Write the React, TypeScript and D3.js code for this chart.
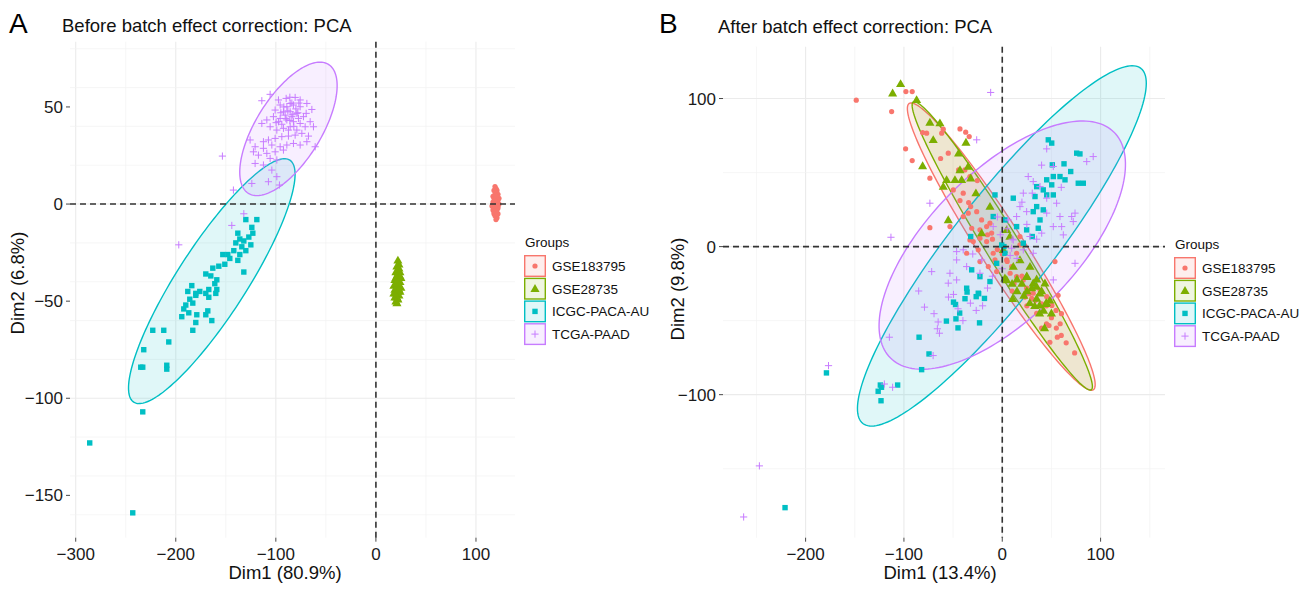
import React, { useEffect, useRef } from "react";
import * as d3 from "d3";

const groups = ["GSE183795", "GSE28735", "ICGC-PACA-AU", "TCGA-PAAD"];
const groupColors = ["#F8766D", "#7CAE00", "#00BFC4", "#C77CFF"];
const groupShapes = ["circle", "triangle", "square", "plus"];

// tick labels
const xTicksBefore = [-300, -200, -100, 0, 100];
const yTicksBefore = [-150, -100, -50, 0, 50];
const xTicksAfter = [-200, -100, 0, 100];
const yTicksAfter = [-100, 0, 100];

// Panel A - before correction, [Dim1, Dim2]
const beforeGSE183795 = [
  [119, 9], [120, 8], [121, 7], [118, 7], [120, 6], [122, 5], [119, 5], [117, 4], [121, 4], [123, 3],
  [118, 3], [120, 2], [122, 2], [117, 1], [119, 1], [121, 0], [123, 0], [118, 0], [120, -1], [116, -1],
  [122, -2], [119, -2], [117, -3], [121, -3], [120, -4], [118, -5], [122, -5], [119, -6], [121, -7], [120, -8],
  [118, -2], [121, 1], [119, 3], [120, -3], [122, -1], [118, -4], [120, 4], [119, -1], [121, -5], [120, 0],
];

const beforeGSE28735 = [
  [22, -29], [23, -31], [21, -32], [23, -33], [22, -34], [20, -35], [24, -35], [22, -36], [21, -37], [23, -38],
  [25, -38], [19, -39], [22, -39], [24, -40], [20, -41], [22, -41], [18, -42], [23, -42], [25, -43], [21, -43],
  [19, -44], [22, -45], [24, -45], [20, -46], [23, -47], [21, -48], [19, -48], [22, -49], [20, -50], [21, -51],
  [18, -46], [24, -37], [20, -38], [23, -44], [21, -40],
];

const beforeICGC = [
  [-286, -123], [-243, -159], [-233, -107], [-235, -84], [-233, -84], [-232, -75], [-223, -65], [-212, -65],
  [-207, -71], [-209, -83], [-209, -85], [-194, -58], [-192, -54], [-190, -52], [-186, -49], [-187, -56],
  [-183, -51], [-183, -65], [-180, -61], [-179, -57], [-180, -47], [-170, -57], [-168, -55], [-170, -46],
  [-167, -48], [-164, -60], [-160, -46], [-159, -44], [-119, -8], [-130, -8], [-124, -12], [-138, -15],
  [-136, -18], [-132, -19], [-127, -17], [-134, -22], [-140, -20], [-142, -24], [-148, -26], [-153, -26],
  [-146, -28], [-151, -31], [-157, -32], [-163, -33], [-165, -37], [-170, -36], [-159, -39], [-161, -41],
  [-167, -44], [-176, -45], [-180, -46], [-184, -42], [-188, -45], [-132, -35], [-138, -29], [-123, -15],
  [-125, -21], [-130, -24], [-136, -26],
];

const beforeTCGA = [
  [-114, 53.2], [-105.7, 56.5], [-97.4, 53.6], [-89.7, 54.4], [-80.7, 54.9], [-75.7, 53.6], [-69, 51.8],
  [-64, 48.7], [-69.7, 46.7], [-75.7, 50.1], [-82.4, 51], [-89, 50.1], [-95.7, 51], [-100.7, 48.4],
  [-92.4, 47.5], [-85.7, 47.5], [-79, 46.7], [-72.4, 45], [-65.7, 42.4], [-70.7, 39.8], [-75.7, 41.5],
  [-82.4, 42.4], [-89, 43.3], [-95.7, 44.1], [-102.4, 45], [-109, 43.3], [-114, 41.5], [-105.7, 39.8],
  [-99, 38.1], [-92.4, 39], [-85.7, 39.8], [-79, 38.1], [-74, 36.4], [-80.7, 35.5], [-87.4, 35],
  [-94, 34.7], [-100.7, 33.8], [-107.4, 33], [-112.4, 32.1], [-104, 30.4], [-95.7, 29.5], [-89, 30.4],
  [-82.4, 31.2], [-75.7, 30.4], [-69, 32.1], [-60.7, 29.5], [-125.7, 33], [-120.7, 29.5], [-112.4, 28.7],
  [-122.4, 26.9], [-117.4, 25.2], [-109, 26.1], [-100.7, 26.9], [-92.4, 27.8], [-120.7, 20.9],
  [-112.4, 20.1], [-105.7, 23.5], [-99, 22.7], [-104, 17.5], [-99, 14.1], [-107.4, 11.5], [-96.4, 9.8],
  [-124, 10.6], [-142.4, 7.2], [-153.4, 24.7], [-62.4, 39.8], [-67.4, 35], [-85.7, 51.8], [-90.7, 45.8],
  [-97.4, 42.4], [-84, 45], [-77.4, 44.1], [-87.4, 38.1], [-94, 41.1], [-99.7, 41.9], [-88, 48],
  [-83, 46], [-86, 43], [-80, 49], [-92, 50], [-84, 52], [-78, 47], [-90, 44], [-86, 55], [-82, 40],
  [-95, 47], [-77, 52], [-132, -5], [-144, -11], [-197, -21],
];

// Panel B - after correction, [Dim1, Dim2]
const afterGSE183795 = [
  [-148.5, 98.9], [-112.5, 91.2], [-98, 104.7], [-91.6, 104.7], [-98.3, 66], [-91.6, 58.1], [-81, 77],
  [-76.9, 76.6], [-73.6, 46.2], [-61.6, 76.6], [-60, 79.3], [-54.9, 63.1], [-62.7, 59.5], [-43, 79.5],
  [-37.2, 77.3], [-33.6, 74.3], [-44.4, 51.8], [-38, 51.8], [-32.9, 47.3], [-25.4, 44.6], [-49.8, 38.3],
  [-39.7, 36.1], [-43, 31.1], [-34.2, 29.7], [-32.1, 27], [-34.6, 22.6], [-39.7, 20.3], [-26, 23.6],
  [-73.6, 12.8], [-53.2, 13.5], [-31.1, 12.4], [-22.7, 11.3], [-15.9, 13.5], [-10.8, 9.1], [-22.7, 5.7],
  [-15.9, 3.4], [-29.5, 3.4], [-24.4, -2.2], [-9.2, -4.5], [-7.4, -9], [-14.2, -13.5], [-5.7, -16.9],
  [4.5, -9], [9.6, -13.5], [14.6, -20.3], [21.4, -22.5], [24.8, -28.1], [31.5, -31.5], [38.4, -29.3],
  [45.2, -33.8], [53.6, -10.1], [14.6, -4.5], [18, 1.1], [18, 6.8], [-12.5, 15.8], [-21, 18], [-32.9, 4.5],
  [-36.2, -4.5], [-22.7, -10.1], [45, -52.1], [47.5, -53.3], [56, -61.2], [48.4, -64.6], [73.6, -71.8],
  [58.9, -52.1], [60.2, -45.3], [54.7, -43.1], [50.5, -39.7], [40, -38.6], [33.7, -36.3], [23.1, -34.1],
  [27.3, -31.8], [56.8, -32.9], [20, -20], [30, -35], [35, -45], [45, -40], [50, -48], [55, -55], [40, -55],
  [25, -40], [12, -25], [8, -18], [5, -10], [0, -5], [-5, -2], [-10, 5], [-15, 8], [10, -30], [60, -60],
  [65, -65],
];

const afterGSE28735 = [
  [-103.4, 109.9], [-111.5, 103.6], [-87.1, 99.1], [-73.6, 83.8], [-63.4, 83.4], [-70.2, 72.1], [-81, 54.5],
  [-36.9, 70.3], [-44.4, 63.1], [-43, 51.8], [-41.3, 45.1], [-34.6, 54.1], [-26.8, 36.1], [-60, 40.5],
  [-54.9, 18], [-12.5, 27], [4.5, 11.3], [1, -2.2], [2.7, -21.4], [7.8, 6.8], [11.2, -13.5], [18, -9],
  [24.8, -20.3], [31.5, -24.7], [35, -27], [38.4, -31.5], [43.4, -24.7], [28.2, -13.5], [4.5, -22.5],
  [-48.1, 45.1], [-56.6, 45.1], [-32.1, 46.2], [-21, 9.1], [20, -25], [25, -30], [30, -28], [35, -35],
  [28, -38], [40, -30], [15, -22], [22, -33], [33, -40], [45, -38], [38, -45], [50, -45], [43, -55],
  [15, -30], [10, -25], [25, -20], [35, -22], [10.5, -35.2], [37.9, -39.7], [44.2, -38.6], [48.4, -36.3],
  [42, -43.1],
];

const afterICGC = [
  [46.8, 72.1], [50.3, 69.9], [75.7, 63.1], [79, 62.6], [50.9, 55.2], [62.8, 55.9], [69.6, 50.7], [58.7, 47.3],
  [63.8, 45.1], [77.3, 42.8], [82.4, 42.8], [51.9, 47.3], [45.2, 45.1], [41.7, 38.3], [50.3, 41.7], [35, 40.5],
  [45.2, 34.9], [51.9, 34.9], [33.3, 33.8], [11.2, 32.7], [-7.4, 34.9], [-9.2, 20.3], [2.7, 18], [14.6, 13.5],
  [24.8, 11.3], [38.4, 18], [35, 27], [31.5, 23.6], [41.7, 24.8], [36.6, 12.4], [-32.1, 6.8], [-0.6, 1.1],
  [1.7, 0], [2.7, -4.5], [-5.7, -11.3], [-31.1, -15.7], [-22.7, -20.3], [-12.5, -23.6], [21.4, 2.3],
  [30.5, 6.8], [-36.2, -28.1], [-24.4, -31.5], [-49.6, -37.5], [-47.5, -39.1], [-37.9, -35.2], [-43.3, -44.9],
  [-47.1, -48.8], [-45, -54.9], [-56.8, -50.3], [-84.6, -61.2], [-74.5, -72.5], [-82, -83.1], [-23.1, -51.5],
  [-26.5, -33.8], [-18.1, -35], [-24, -31.8], [-35.8, -30.7], [-124, -93.5], [-122.8, -95], [-126.2, -97.7],
  [-106.4, -93.5], [-123.3, -104.1], [-178.8, -85.3], [-220.9, -176.3],
];

const afterTCGA = [
  [-113.2, 6.3], [-11.8, 104.1], [-26, 72.1], [-73.6, 29.3], [45.2, 66], [51.9, 54.1], [92.5, 60.8],
  [85.9, 57.4], [26.4, 47.3], [31.5, 43.9], [38.4, 40.5], [21.4, 36.1], [30.5, 36.1], [45.2, 32.7],
  [55.3, 29.3], [18, 27], [24.8, 23.6], [45.2, 22.6], [58.7, 20.3], [70.6, 20.3], [74, 22.6], [72.2, 16.9],
  [60.4, 13.5], [51.9, 13.5], [40.1, 9.1], [62.1, 7.9], [28.2, 6.8], [14.6, 20.3], [6.1, 18], [11.2, 4.5],
  [21.4, -2.2], [31.5, -4.5], [-46.4, -3.4], [-39.7, -2.2], [-46.4, -9], [-36.2, -13.5], [-71.8, -16.9],
  [-53.2, -18], [-54.9, -24.7], [-46.4, -22.5], [-22.7, -18], [-21, -9], [-9.2, 13.5], [9.6, -1.1],
  [74, -11.3], [51.9, -22.5], [-49.6, -32.3], [-79.1, -40.9], [-69.4, -45.3], [-65.2, -50.9], [-66, -55.5],
  [-63.9, -58.5], [-70.3, -73.6], [-114.8, -61.2], [-119.9, -92.8], [-111.5, -95], [-176.7, -80.4],
  [-247, -148.1], [-263, -182.6], [-32.4, -38.2], [-26.5, -43.1], [-45, -42], [-54.7, -34.1], [10, 5],
  [15, -8], [5, 12], [-5, 20], [25, 15], [35, 5], [20, 30], [0, -15], [-10, -20], [-30, -5], [-85, -30],
  [-20, -40], [-40, -50], [60, 40], [40, 55], [-2, 8], [8, -6], [-15, -28],
];

// concentration ellipses: centre, major semi-axis (data units), minor/major ratio
const beforeEllipses = [
  { group: 2, cx: -164, cy: -39.7, ux: 78, uy: 62.3, ratio: 0.24 },
  { group: 3, cx: -87.4, cy: 38.7, ux: 40, uy: 33.2, ratio: 0.43 },
];
const afterEllipses = [
  { group: 0, cx: -1, cy: 0, ux: 93.6, uy: -96.7, ratio: 0.13 },
  { group: 1, cx: 0, cy: 0.5, ux: 90.5, uy: -97.2, ratio: 0.1 },
  { group: 2, cx: -0.4, cy: 0.45, ux: 141.4, uy: 119.9, ratio: 0.22 },
  { group: 3, cx: 0, cy: 1, ux: 113.6, uy: 76.3, ratio: 0.46 },
];

const FONT = "'Liberation Sans', Arial, Helvetica, sans-serif";
const fmt = (d) => (d < 0 ? "\u2212" + Math.abs(d) : String(d));

const drawSymbol = (g, shape, color, px, py) => {
  if (shape === "circle") {
    g.append("circle").attr("cx", px).attr("cy", py).attr("r", 2.6).attr("fill", color);
  } else if (shape === "triangle") {
    g.append("path")
      .attr("d", d3.symbol(d3.symbolTriangle, 36)())
      .attr("transform", `translate(${px},${py + 0.6})`)
      .attr("fill", color);
  } else if (shape === "square") {
    g.append("rect").attr("x", px - 2.7).attr("y", py - 2.7).attr("width", 5.4).attr("height", 5.4).attr("fill", color);
  } else {
    g.append("path")
      .attr("d", `M${px - 3.6},${py}H${px + 3.6}M${px},${py - 3.6}V${py + 3.6}`)
      .attr("stroke", color)
      .attr("stroke-width", 1)
      .attr("fill", "none");
  }
};

const drawPanel = (svg, p) => {
  const x = d3.scaleLinear().domain(p.xDomain).range(p.xRange);
  const y = d3.scaleLinear().domain(p.yDomain).range(p.yRange);
  const g = svg.append("g");
  const [left, right] = p.xRange;
  const [bottom, top] = p.yRange;

  // grid
  const xGrid = x.ticks(10);
  const yGrid = y.ticks(10);
  g.selectAll(".vg")
    .data(xGrid)
    .join("line")
    .attr("x1", (d) => x(d)).attr("x2", (d) => x(d))
    .attr("y1", top).attr("y2", bottom)
    .attr("stroke", (d) => (p.xTicks.includes(d) ? "#EBEBEB" : "#F2F2F2"))
    .attr("stroke-width", (d) => (p.xTicks.includes(d) ? 1.1 : 0.7));
  g.selectAll(".hg")
    .data(yGrid)
    .join("line")
    .attr("y1", (d) => y(d)).attr("y2", (d) => y(d))
    .attr("x1", left).attr("x2", right)
    .attr("stroke", (d) => (p.yTicks.includes(d) ? "#EBEBEB" : "#F2F2F2"))
    .attr("stroke-width", (d) => (p.yTicks.includes(d) ? 1.1 : 0.7));

  // ellipses
  const outline = d3.line().curve(d3.curveLinearClosed);
  p.ellipses.forEach((e) => {
    const cx = x(e.cx), cy = y(e.cy);
    const tx = x(e.cx + e.ux) - cx, ty = y(e.cy + e.uy) - cy;
    const a = Math.hypot(tx, ty);
    const b = a * e.ratio;
    const ca = tx / a, sa = ty / a;
    const pts = d3.range(0, 360, 2).map((deg) => {
      const t = (deg * Math.PI) / 180;
      const u = a * Math.cos(t), v = b * Math.sin(t);
      return [cx + u * ca - v * sa, cy + u * sa + v * ca];
    });
    g.append("path")
      .attr("d", outline(pts))
      .attr("fill", groupColors[e.group])
      .attr("fill-opacity", 0.12)
      .attr("stroke", groupColors[e.group])
      .attr("stroke-width", 1.4);
  });

  // points
  p.series.forEach((s, i) => {
    const sg = g.append("g");
    s.forEach((d) => drawSymbol(sg, groupShapes[i], groupColors[i], x(d[0]), y(d[1])));
  });

  // reference lines
  g.append("line")
    .attr("x1", x(0)).attr("x2", x(0)).attr("y1", top).attr("y2", bottom)
    .attr("stroke", "#333").attr("stroke-width", 1.6).attr("stroke-dasharray", "6,4");
  g.append("line")
    .attr("y1", y(0)).attr("y2", y(0)).attr("x1", left).attr("x2", right)
    .attr("stroke", "#333").attr("stroke-width", 1.6).attr("stroke-dasharray", "6,4");

  // axes
  p.xTicks.forEach((t) => {
    g.append("line").attr("x1", x(t)).attr("x2", x(t)).attr("y1", bottom).attr("y2", bottom + 4)
      .attr("stroke", "#333").attr("stroke-width", 0.9);
    g.append("text").attr("x", x(t)).attr("y", bottom + 22).attr("text-anchor", "middle")
      .attr("font-family", FONT).attr("font-size", 17).attr("fill", "#1a1a1a").text(fmt(t));
  });
  p.yTicks.forEach((t) => {
    g.append("line").attr("x1", left - 4).attr("x2", left).attr("y1", y(t)).attr("y2", y(t))
      .attr("stroke", "#333").attr("stroke-width", 0.9);
    g.append("text").attr("x", left - 7).attr("y", y(t)).attr("dy", "0.36em").attr("text-anchor", "end")
      .attr("font-family", FONT).attr("font-size", 17).attr("fill", "#1a1a1a").text(fmt(t));
  });

  g.append("text").attr("x", p.xTitlePos[0]).attr("y", p.xTitlePos[1]).attr("text-anchor", "middle")
    .attr("font-family", FONT).attr("font-size", 18.5).attr("fill", "#111").text(p.xTitle);
  g.append("text")
    .attr("transform", `translate(${p.yTitlePos[0]},${p.yTitlePos[1]}) rotate(-90)`)
    .attr("text-anchor", "middle")
    .attr("font-family", FONT).attr("font-size", 18.5).attr("fill", "#111").text(p.yTitle);

  // panel letter and title
  g.append("text").attr("x", p.letterPos[0]).attr("y", p.letterPos[1])
    .attr("font-family", FONT).attr("font-size", 28).attr("fill", "#000").text(p.letter);
  g.append("text").attr("x", p.titlePos[0]).attr("y", p.titlePos[1])
    .attr("font-family", FONT).attr("font-size", 18.5).attr("fill", "#111").text(p.title);

  // legend
  const [lx, ly] = p.legendPos;
  g.append("text").attr("x", lx + 1).attr("y", ly - 8)
    .attr("font-family", FONT).attr("font-size", 13.5).attr("fill", "#111").text("Groups");
  groups.forEach((name, i) => {
    const top0 = ly + i * 22.7;
    g.append("rect").attr("x", lx + 0.7).attr("y", top0 + 0.7).attr("width", 20.6).attr("height", 20.6)
      .attr("fill", groupColors[i]).attr("fill-opacity", 0.12)
      .attr("stroke", groupColors[i]).attr("stroke-width", 1.4);
    drawSymbol(g, groupShapes[i], groupColors[i], lx + 11, top0 + 11);
    g.append("text").attr("x", lx + 28).attr("y", top0 + 11).attr("dy", "0.36em")
      .attr("font-family", FONT).attr("font-size", 13.5).attr("fill", "#111").text(name);
  });
};

const App = () => {
  const svgRef = useRef(null);

  useEffect(() => {
    const svg = d3.select(svgRef.current);
    svg.selectAll("*").remove();

    drawPanel(svg, {
      series: [beforeGSE183795, beforeGSE28735, beforeICGC, beforeTCGA],
      ellipses: beforeEllipses,
      xDomain: [-305.7, 139], xRange: [70, 515],
      yDomain: [-171.8, 83.6], yRange: [537.7, 41.7],
      xTicks: xTicksBefore, yTicks: yTicksBefore,
      xTitle: "Dim1 (80.9%)", yTitle: "Dim2 (6.8%)",
      xTitlePos: [285, 579], yTitlePos: [24, 283],
      letter: "A", letterPos: [9, 33],
      title: "Before batch effect correction: PCA", titlePos: [62, 32],
      legendPos: [524, 255],
    });

    drawPanel(svg, {
      series: [afterGSE183795, afterGSE28735, afterICGC, afterTCGA],
      ellipses: afterEllipses,
      xDomain: [-284, 165.5], xRange: [723, 1165],
      yDomain: [-196.6, 135], yRange: [537.7, 46.7],
      xTicks: xTicksAfter, yTicks: yTicksAfter,
      xTitle: "Dim1 (13.4%)", yTitle: "Dim2 (9.8%)",
      xTitlePos: [940, 579], yTitlePos: [684, 289],
      letter: "B", letterPos: [659, 33],
      title: "After batch effect correction: PCA", titlePos: [718, 33],
      legendPos: [1174, 257],
    });
  }, []);

  return (
    <svg
      ref={svgRef}
      width={1310}
      height={598}
      style={{ position: "absolute", left: 0, top: 0, background: "#fff" }}
    />
  );
};

export default App;
